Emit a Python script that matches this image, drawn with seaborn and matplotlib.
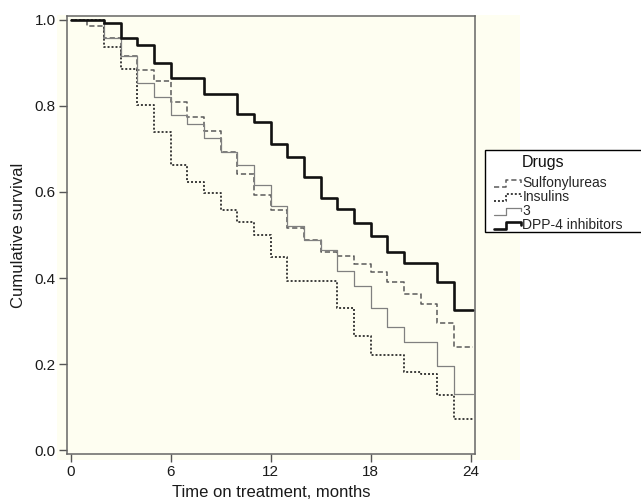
import matplotlib
matplotlib.use("Agg")
import matplotlib.pyplot as plt
import matplotlib.patches as mpatches
from matplotlib.lines import Line2D
from matplotlib.legend_handler import HandlerBase
import seaborn as sns
import pandas as pd

# ---- data ----
drugs = ["Sulfonylureas", "Insulins", "3", "DPP-4 inhibitors"]
interval_start = list(range(24))          # months 0..23
follow_up_end = 24.15
sulfonylureas = [1.000, 0.986, 0.957, 0.917, 0.884, 0.859, 0.810, 0.775, 0.741, 0.693,
                 0.642, 0.593, 0.558, 0.516, 0.488, 0.460, 0.451, 0.432, 0.415, 0.390,
                 0.362, 0.339, 0.295, 0.240]
insulins = [1.000, 1.000, 0.937, 0.887, 0.802, 0.740, 0.663, 0.624, 0.597, 0.558,
            0.531, 0.500, 0.450, 0.394, 0.394, 0.394, 0.331, 0.266, 0.221, 0.221,
            0.182, 0.177, 0.128, 0.072]
group3 = [1.000, 1.000, 0.957, 0.917, 0.853, 0.820, 0.779, 0.757, 0.725, 0.692,
          0.663, 0.617, 0.568, 0.522, 0.488, 0.465, 0.417, 0.382, 0.330, 0.285,
          0.252, 0.252, 0.196, 0.130]
dpp4 = [1.000, 1.000, 0.992, 0.957, 0.941, 0.901, 0.864, 0.864, 0.829, 0.829,
        0.781, 0.762, 0.711, 0.682, 0.634, 0.586, 0.560, 0.529, 0.498, 0.461,
        0.436, 0.436, 0.391, 0.326]
x_ticks = [0, 6, 12, 18, 24]
y_ticks = [0.0, 0.2, 0.4, 0.6, 0.8, 1.0]

series = dict(zip(drugs, [sulfonylureas, insulins, group3, dpp4]))
rows = []
for name, vals in series.items():
    xs = interval_start + [follow_up_end]
    ys = vals + [vals[-1]]
    for xv, yv in zip(xs, ys):
        rows.append({"month": xv, "survival": yv, "drug": name})
df = pd.DataFrame(rows)

# ---- styles ----
colors = {"Sulfonylureas": "#5a5a5a", "Insulins": "#2e2e2e", "3": "#808080",
          "DPP-4 inhibitors": "#111111"}
widths = {"Sulfonylureas": 1.1, "Insulins": 1.3, "3": 0.9, "DPP-4 inhibitors": 1.9}
dash_map = {"Sulfonylureas": (3.4, 1.9), "Insulins": (1.1, 1.1), "3": "",
            "DPP-4 inhibitors": ""}
cream = "#fefef1"

sns.set_theme(style="white")
plt.rcParams["font.family"] = ["Liberation Sans", "DejaVu Sans"]

fig = plt.figure(figsize=(6.41, 5.01), dpi=100)
fig.patch.set_facecolor("white")
# cream panel behind the axes
fig.patches.append(mpatches.Rectangle((57 / 641, 1 - 460 / 501), 463 / 641, 445 / 501,
                                      transform=fig.transFigure, facecolor=cream,
                                      edgecolor="none", zorder=-5))
ax = fig.add_axes([67 / 641, 1 - 454 / 501, (475 - 67) / 641, (454 - 16) / 501])
ax.set_zorder(2)
ax.set_facecolor(cream)

sns.lineplot(data=df, x="month", y="survival", hue="drug", style="drug", size="drug",
             hue_order=drugs, palette=colors, dashes=dash_map, sizes=widths,
             estimator=None, sort=True, drawstyle="steps-post", legend=False, ax=ax)

ax.set_xlim(-0.22, 24.26)
ax.set_ylim(-0.0093, 1.0093)
ax.set_xticks(x_ticks)
ax.set_xticklabels([str(t) for t in x_ticks])
ax.set_yticks(y_ticks)
ax.set_yticklabels([f"{t:.1f}" for t in y_ticks])
ax.tick_params(axis="both", direction="out", length=6, width=1, color="#555555",
               labelsize=11, labelcolor="#1a1a1a", pad=2, bottom=True, left=True)
for sp in ax.spines.values():
    sp.set_visible(True)
    sp.set_color("#666666")
    sp.set_linewidth(1.1)
ax.set_xlabel("Time on treatment, months", fontsize=12, color="#1a1a1a", labelpad=4)
ax.set_ylabel("Cumulative survival", fontsize=12, color="#1a1a1a", labelpad=6)


class StepHandler(HandlerBase):
    def __init__(self, color, lw, dashes):
        super().__init__()
        self.color, self.lw, self.dashes = color, lw, dashes

    def create_artists(self, legend, orig_handle, xdescent, ydescent, width, height,
                       fontsize, trans):
        x0, y0 = -xdescent, -ydescent
        xs = [x0, x0 + 0.45 * width, x0 + 0.45 * width, x0 + width, x0 + width]
        ys = [y0 + 0.0 * height, y0 + 0.0 * height, y0 + 0.75 * height,
              y0 + 0.75 * height, y0 + 0.35 * height]
        ln = Line2D(xs, ys, color=self.color, lw=self.lw, transform=trans)
        if self.dashes:
            ln.set_dashes(self.dashes)
        return [ln]


# legend frame (extends past the right edge of the figure)
fig.patches.append(mpatches.Rectangle((485 / 641, 1 - 232 / 501), 160 / 641, 82 / 501,
                                      transform=fig.transFigure, facecolor="white",
                                      edgecolor="black", linewidth=1.0, zorder=3))
fig.text(522 / 641, 1 - 163 / 501, "Drugs", fontsize=11.5, color="#111111",
         ha="left", va="center", zorder=4)

handles = [Line2D([], [], color=colors[d]) for d in drugs]
handler_map = {h: StepHandler(colors[d], widths[d], dash_map[d]) for h, d in zip(handles, drugs)}
leg = fig.legend(handles, drugs, handler_map=handler_map, loc="upper left",
                 bbox_to_anchor=(494 / 641, 1 - 176 / 501), bbox_transform=fig.transFigure,
                 fontsize=10, frameon=False, borderpad=0.0, labelspacing=0.0,
                 handlelength=1.95, handleheight=0.6, handletextpad=0.1, borderaxespad=0)
leg.set_zorder(5)

fig.savefig("out.png", dpi=100, facecolor="white")
